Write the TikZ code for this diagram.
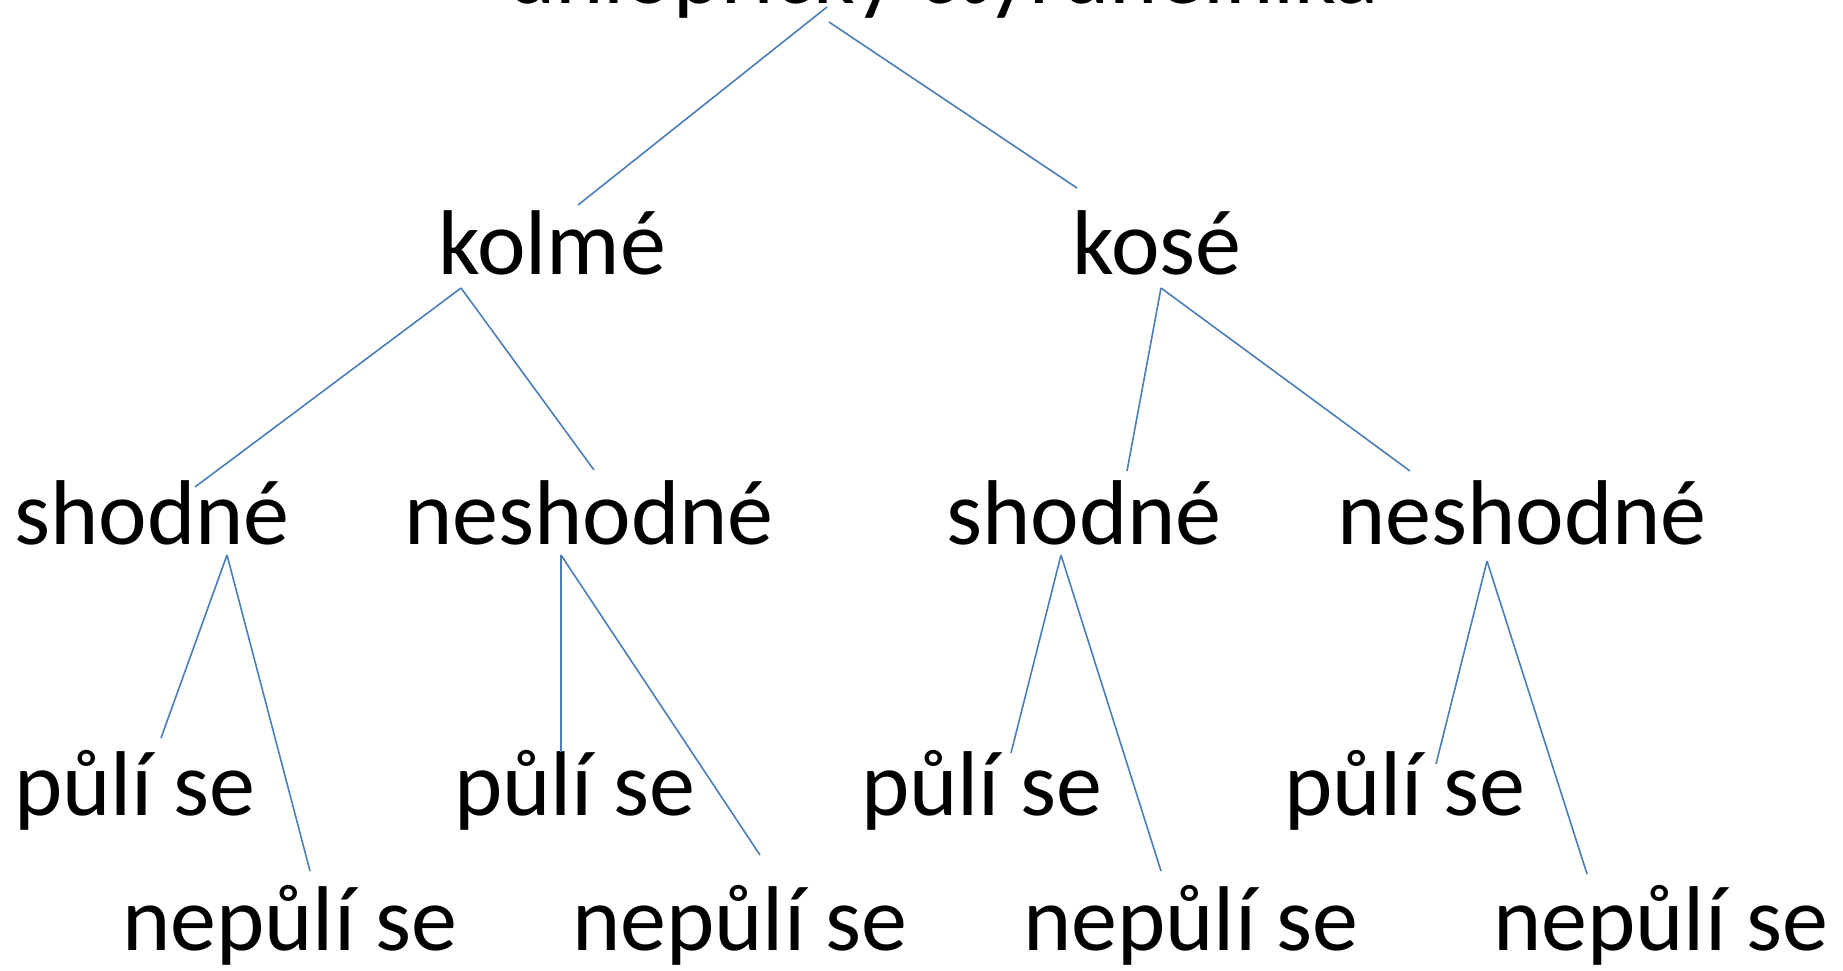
\documentclass[tikz,border=0pt]{standalone}
\usepackage{fontspec}
\setmainfont{Carlito}
\definecolor{linkblue}{RGB}{74,126,187}
\tikzset{
  lbl/.style={anchor=base, inner sep=0pt, font=\fontsize{92pt}{110pt}\selectfont, text=black},
  link/.style={draw=linkblue, line width=1.6pt}
}
\begin{document}
\begin{tikzpicture}[x=1pt,y=-1pt]
\useasboundingbox (0,0) rectangle (1843,970);
% labels
\node[lbl] (root) at (943,3) {úhlopříčky čtyřúhelníka};
\node[lbl] (kolme) at (552,274) {kolmé};
\node[lbl] (kose) at (1157,274) {kosé};
\node[lbl] (shL) at (152,544) {shodné};
\node[lbl] (neL) at (589,544) {neshodné};
\node[lbl] (shR) at (1084,544) {shodné};
\node[lbl] (neR) at (1522,544) {neshodné};
\node[lbl] (p1) at (135,815) {půlí se};
\node[lbl] (p2) at (575,815) {půlí se};
\node[lbl] (p3) at (982,815) {půlí se};
\node[lbl] (p4) at (1405,815) {půlí se};
\node[lbl] (n1) at (290,950) {nepůlí se};
\node[lbl] (n2) at (740,950) {nepůlí se};
\node[lbl] (n3) at (1191,950) {nepůlí se};
\node[lbl] (n4) at (1661,950) {nepůlí se};
% connector end points
\coordinate (rootA) at (827,7);
\coordinate (rootB) at (829,22);
\coordinate (kolmeT) at (578,205);
\coordinate (koseT) at (1077,188);
\coordinate (kolmeB) at (461,288);
\coordinate (koseB) at (1161,288);
\coordinate (shLT) at (195,487);
\coordinate (neLT) at (594,470);
\coordinate (shRT) at (1127,471);
\coordinate (neRT) at (1410,471);
\coordinate (shLB) at (227,555);
\coordinate (neLB) at (561,555);
\coordinate (shRB) at (1061,555);
\coordinate (neRB) at (1487,561);
\coordinate (p1T) at (161,738);
\coordinate (p2T) at (561,752);
\coordinate (p3T) at (1011,753);
\coordinate (p4T) at (1436,764);
\coordinate (n1T) at (310,871);
\coordinate (n2T) at (760,855);
\coordinate (n3T) at (1161,871);
\coordinate (n4T) at (1587,874);
% connectors
\draw[link] (rootA) -- (kolmeT);
\draw[link] (rootB) -- (koseT);
\draw[link] (kolmeB) -- (shLT);
\draw[link] (kolmeB) -- (neLT);
\draw[link] (koseB) -- (shRT);
\draw[link] (koseB) -- (neRT);
\draw[link] (shLB) -- (p1T);
\draw[link] (shLB) -- (n1T);
\draw[link] (neLB) -- (p2T);
\draw[link] (neLB) -- (n2T);
\draw[link] (shRB) -- (p3T);
\draw[link] (shRB) -- (n3T);
\draw[link] (neRB) -- (p4T);
\draw[link] (neRB) -- (n4T);
\end{tikzpicture}
\end{document}
